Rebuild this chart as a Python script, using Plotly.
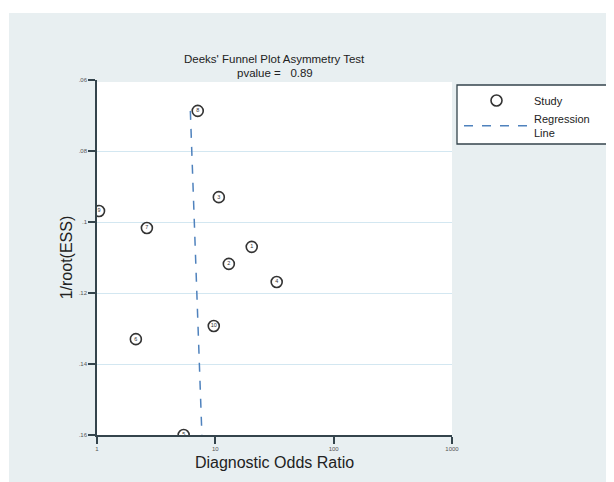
import plotly.graph_objects as go

# ---- data ----
study_ids = ["1", "2", "3", "4", "5", "6", "7", "8", "9", "10"]
diag_odds_ratio = [20.3, 13.0, 10.7, 33.0, 5.4, 2.13, 2.64, 7.1, 1.04, 9.7]
inv_root_ess = [0.1070, 0.1118, 0.0930, 0.1169, 0.1600, 0.1330, 0.1017, 0.0687, 0.0969, 0.1293]

reg_x = [6.15, 7.7]
reg_y = [0.0687, 0.16]

x_tickvals = [1, 10, 100, 1000]
x_ticktext = ["1", "10", "100", "1000"]
y_tickvals = [0.06, 0.08, 0.10, 0.12, 0.14, 0.16]
y_ticktext = [".06", ".08", ".1", ".12", ".14", ".16"]

title_line1 = "Deeks' Funnel Plot Asymmetry Test"
title_line2 = "pvalue =\u00a0\u00a0 0.89"

BG = "#e8eff1"
AXIS = "#34444c"
GRID = "#d3e7f1"
REG = "#4f82bd"
MARK = "#333333"
FONT = "Liberation Sans, Arial, sans-serif"

fig = go.Figure()

fig.add_trace(go.Scatter(
    x=diag_odds_ratio, y=inv_root_ess, mode="markers", name="Study",
    marker=dict(symbol="circle-open", size=11, color=MARK, line=dict(width=1.6, color=MARK)),
    hoverinfo="skip", showlegend=True,
))
fig.add_trace(go.Scatter(
    x=diag_odds_ratio, y=inv_root_ess, mode="text", text=study_ids,
    textposition="middle center", textfont=dict(size=5.5, color=MARK, family=FONT),
    showlegend=False, hoverinfo="skip",
))
fig.add_trace(go.Scatter(
    x=reg_x, y=reg_y, mode="lines", name="Regression<br>Line",
    line=dict(color=REG, width=1.5, dash="dash"), hoverinfo="skip",
))

# page body has an 8px margin; figure is placed at (8, 8)
OFF = 8
W, H = 614 - OFF, 482 - OFF
ml, mr, mt, mb = 97 - OFF, 162, 80 - OFF, 47
pw, ph = W - ml - mr, H - mt - mb

def px_x(p):
    # p is a page pixel
    return (p - OFF - ml) / pw

def px_y(p):
    return (H - mb - (p - OFF)) / ph

shapes = [
    dict(type="rect", xref="paper", yref="paper", layer="below",
         x0=px_x(9), x1=px_x(620), y0=px_y(490), y1=px_y(13),
         fillcolor=BG, line=dict(width=0)),
    dict(type="rect", xref="paper", yref="paper", layer="below",
         x0=0, x1=1, y0=0, y1=px_y(82),
         fillcolor="white", line=dict(width=0)),
    dict(type="rect", xref="paper", yref="paper", layer="below",
         x0=px_x(457), x1=px_x(610), y0=px_y(144), y1=px_y(85),
         fillcolor="white", line=dict(width=1.3, color=AXIS)),
]

annotations = [
    dict(text=title_line1, xref="paper", yref="paper", x=0.5, y=px_y(66), yanchor="bottom",
         showarrow=False, borderpad=0, font=dict(size=11.5, color="#222", family=FONT)),
    dict(text=title_line2, xref="paper", yref="paper", x=0.5, y=px_y(66), yanchor="top",
         showarrow=False, borderpad=0, font=dict(size=11.5, color="#222", family=FONT)),
]

fig.update_layout(
    width=W, height=H,
    margin=dict(l=ml, r=mr, t=mt, b=mb, pad=0),
    paper_bgcolor="white", plot_bgcolor="white",
    font=dict(family=FONT, color="#222"),
    shapes=shapes, annotations=annotations,
    showlegend=True,
    legend=dict(x=px_x(459), y=px_y(86), xanchor="left", yanchor="top",
                bgcolor="rgba(0,0,0,0)", borderwidth=0,
                font=dict(size=11, color="#222", family=FONT),
                itemwidth=65, tracegroupgap=6),
    xaxis=dict(type="log", range=[0, 3], tickvals=x_tickvals, ticktext=x_ticktext,
               showgrid=False, zeroline=False, showline=True, linecolor=AXIS, linewidth=1.5,
               ticks="outside", ticklen=7, tickcolor=AXIS, tickwidth=1.5,
               tickfont=dict(size=6, color="#555", family=FONT),
               title=dict(text="Diagnostic Odds Ratio", font=dict(size=16, color="#222", family=FONT),
                          standoff=6)),
    yaxis=dict(range=[0.16, 0.06], tickvals=y_tickvals, ticktext=y_ticktext,
               showgrid=True, gridcolor=GRID, gridwidth=1,
               zeroline=False, showline=True, linecolor=AXIS, linewidth=1.5,
               ticks="outside", ticklen=7, tickcolor=AXIS, tickwidth=1.5,
               tickfont=dict(size=6, color="#555", family=FONT),
               title=dict(text="1/root(ESS)", font=dict(size=16, color="#222", family=FONT),
                          standoff=2)),
)

fig.write_html("out.html")
